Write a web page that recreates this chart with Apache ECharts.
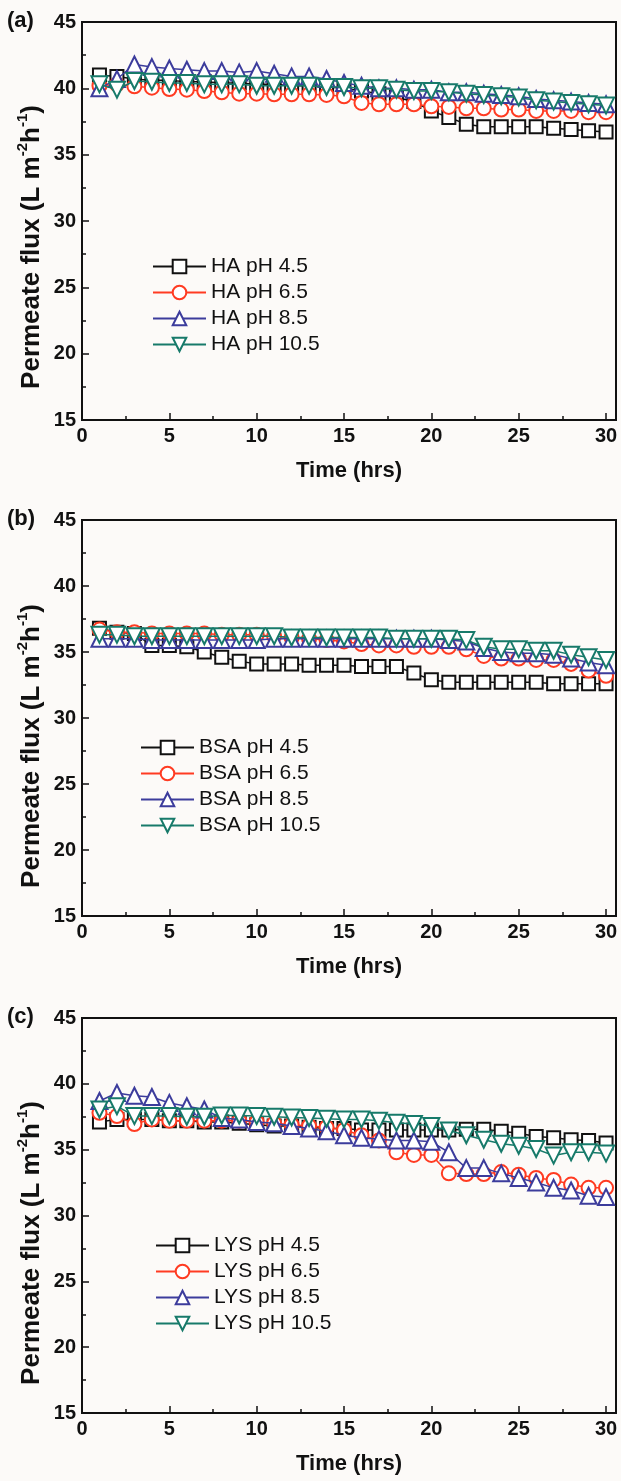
<!DOCTYPE html>
<html><head><meta charset="utf-8">
<script src="https://cdn.jsdelivr.net/npm/echarts@6/dist/echarts.min.js"></script>
<style>html,body{margin:0;padding:0;background:#fcfaf8;}#c{width:621px;height:1481px;}</style>
</head><body><div id="c"></div>
<script>
// ---------- data ----------
const hours = [1,2,3,4,5,6,7,8,9,10,11,12,13,14,15,16,17,18,19,20,21,22,23,24,25,26,27,28,29,30];
const xTicks = [0,5,10,15,20,25,30];
const yTicks = [15,20,25,30,35,40,45];
const phLabels = ['pH 4.5','pH 6.5','pH 8.5','pH 10.5'];
const panelNames = ['HA','BSA','LYS'];
const panelTags = ['(a)','(b)','(c)'];

const HA_45  = [41.0,40.9,40.7,40.6,40.6,40.5,40.5,40.4,40.4,40.3,40.3,40.2,40.2,40.1,40.0,39.8,39.6,39.3,39.0,38.3,37.8,37.3,37.1,37.1,37.1,37.1,37.0,36.9,36.8,36.7];
const HA_65  = [40.2,40.3,40.15,40.05,39.95,39.9,39.8,39.7,39.6,39.6,39.55,39.55,39.55,39.5,39.4,38.9,38.8,38.8,38.8,38.65,38.6,38.5,38.5,38.4,38.4,38.3,38.3,38.3,38.2,38.2];
const HA_85  = [40.0,40.7,41.8,41.6,41.5,41.4,41.3,41.3,41.2,41.3,41.1,40.9,40.9,40.7,40.4,40.2,40.0,40.0,39.9,39.9,39.7,39.7,39.6,39.5,39.4,39.2,39.1,39.0,38.9,38.8];
const HA_105 = [40.3,39.9,40.55,40.5,40.4,40.4,40.3,40.3,40.3,40.2,40.2,40.2,40.2,40.1,40.1,40.0,40.0,39.9,39.8,39.8,39.7,39.6,39.5,39.4,39.3,39.1,39.0,38.9,38.8,38.7];

const BSA_45  = [36.8,36.5,36.4,35.5,35.5,35.4,35.0,34.6,34.3,34.1,34.1,34.1,34.0,34.0,34.0,33.9,33.9,33.9,33.4,32.9,32.7,32.7,32.7,32.7,32.7,32.7,32.6,32.6,32.6,32.6];
const BSA_65  = [36.7,36.5,36.5,36.4,36.4,36.4,36.4,36.3,36.3,36.3,36.2,36.1,36.0,35.9,35.8,35.6,35.5,35.5,35.4,35.4,35.4,35.2,34.7,34.5,34.5,34.4,34.4,34.1,33.6,33.2];
const BSA_85  = [36.0,36.0,36.0,35.9,35.9,35.9,35.9,35.9,35.9,35.9,36.0,36.0,36.0,36.0,36.0,36.0,36.0,36.0,36.0,36.0,35.9,35.8,35.3,35.0,34.9,34.9,34.8,34.5,34.2,34.0];
const BSA_105 = [36.3,36.3,36.2,36.2,36.2,36.2,36.2,36.2,36.2,36.2,36.2,36.1,36.1,36.1,36.1,36.1,36.1,36.0,36.0,36.0,36.0,35.9,35.4,35.2,35.2,35.1,35.1,34.8,34.6,34.4];

const LYS_45  = [37.1,37.3,37.3,37.3,37.2,37.2,37.1,37.1,37.0,36.9,36.8,36.8,36.7,36.6,36.6,36.5,36.5,36.5,36.5,36.5,36.5,36.55,36.55,36.4,36.25,36.0,35.9,35.75,35.7,35.5];
const LYS_65  = [37.8,37.55,36.95,37.3,37.2,37.2,37.2,37.2,37.2,37.1,37.0,36.9,36.8,36.7,36.5,36.1,35.7,34.8,34.6,34.6,33.2,33.15,33.15,33.3,33.1,32.85,32.7,32.35,32.1,32.1];
const LYS_85  = [38.7,39.3,39.1,39.0,38.55,38.3,38.05,37.4,37.3,37.1,37.0,36.8,36.6,36.4,36.1,35.9,35.8,35.7,35.7,35.6,34.8,33.6,33.6,33.2,32.85,32.5,32.1,31.9,31.5,31.4];
const LYS_105 = [38.05,38.3,37.55,37.55,37.55,37.5,37.5,37.6,37.6,37.55,37.5,37.45,37.4,37.35,37.3,37.3,37.2,37.05,36.95,36.8,36.45,36.1,35.75,35.45,35.3,35.05,34.55,34.8,34.8,34.7];

const panelData = [
  [HA_45, HA_65, HA_85, HA_105],
  [BSA_45, BSA_65, BSA_85, BSA_105],
  [LYS_45, LYS_65, LYS_85, LYS_105]
];

// ---------- style ----------
const FONT = "'Liberation Sans', Arial, sans-serif";
const colors = ['#111111', '#ff3b22', '#3c3c9c', '#177a6a'];
const symbols = ['rect', 'circle', 'triangle', 'triangle'];
const symRot = [0, 0, 0, 180];
const symSize = [13, 14, 16, 16];
const gridTops = [22, 520, 1018];
const gridH = [398, 396, 395];
const legendTops = [256, 737, 1235];
const legendLefts = [152, 140, 155];
const yTitleCenters = [247, 746, 1243];

const grids = [], xAxes = [], yAxes = [], series = [], legends = [], graphics = [];
panelData.forEach((arrs, p) => {
  grids.push({left: 82, top: gridTops[p], width: 534, height: gridH[p], show: true,
    borderColor: '#111', borderWidth: 2, backgroundColor: 'transparent'});
  xAxes.push({type: 'value', gridIndex: p, min: 0, max: 30.57, interval: 5,
    axisLine: {lineStyle: {color: '#111', width: 2}},
    axisTick: {inside: true, length: 7, lineStyle: {color: '#111', width: 1.5}},
    minorTick: {show: true, splitNumber: 2, length: 4, lineStyle: {color: '#111', width: 1.5}},
    splitLine: {show: false},
    axisLabel: {color: '#111', fontFamily: FONT, fontWeight: 'bold', fontSize: 20, margin: 6,
      formatter: v => (xTicks.indexOf(v) >= 0 ? String(v) : '')},
    name: 'Time (hrs)', nameLocation: 'middle', nameGap: 40,
    nameTextStyle: {color: '#111', fontFamily: FONT, fontWeight: 'bold', fontSize: 22}
  });
  yAxes.push({type: 'value', gridIndex: p, min: 15, max: 45, interval: 5,
    axisLine: {lineStyle: {color: '#111', width: 2}},
    axisTick: {inside: true, length: 7, lineStyle: {color: '#111', width: 1.5}},
    minorTick: {show: true, splitNumber: 2, length: 4, lineStyle: {color: '#111', width: 1.5}},
    splitLine: {show: false},
    axisLabel: {color: '#111', fontFamily: FONT, fontWeight: 'bold', fontSize: 20, margin: 6,
      formatter: v => (yTicks.indexOf(v) >= 0 ? String(v) : '')}
  });
  const names = [];
  arrs.forEach((arr, s) => {
    const nm = panelNames[p] + ' ' + phLabels[s];
    names.push(nm);
    series.push({
      type: 'line', name: nm, xAxisIndex: p, yAxisIndex: p,
      data: hours.map((h, i) => [h, arr[i]]),
      symbol: symbols[s], symbolRotate: symRot[s], symbolSize: symSize[s],
      showAllSymbol: true,
      lineStyle: {color: colors[s], width: 1.5},
      itemStyle: {color: '#ffffff', borderColor: colors[s], borderWidth: 2},
      emphasis: {disabled: true}, animation: false, z: 2 + s
    });
  });
  legends.push({data: names, orient: 'vertical', left: legendLefts[p], top: legendTops[p], padding: 0,
    itemWidth: 53, itemHeight: 17, itemGap: 5,
    textStyle: {color: '#111', fontFamily: FONT, fontSize: 21, lineHeight: 17, padding: [0, 0, 0, 0]},
    selectedMode: false});
  graphics.push({type: 'text', left: 7, top: gridTops[p] - 12,
    style: {text: panelTags[p], fill: '#111', font: "bold 22px " + FONT}});
  graphics.push({type: 'text', x: 30, y: yTitleCenters[p], rotation: Math.PI / 2,
    style: {text: '{n|Permeate flux (L m}{s|-2}{n|h}{s|-1}{n|)}', align: 'center', verticalAlign: 'middle',
      rich: {
        n: {fontFamily: FONT, fontWeight: 'bold', fontSize: 26, fill: '#111', lineHeight: 30, verticalAlign: 'bottom'},
        s: {fontFamily: FONT, fontWeight: 'bold', fontSize: 15, fill: '#111', lineHeight: 30, verticalAlign: 'top'}
      }}});
});

const chart = echarts.init(document.getElementById('c'), null, {renderer: 'canvas'});
chart.setOption({
  backgroundColor: '#fcfaf8', animation: false,
  grid: grids, xAxis: xAxes, yAxis: yAxes, series: series, legend: legends, graphic: graphics
});
</script></body></html>
